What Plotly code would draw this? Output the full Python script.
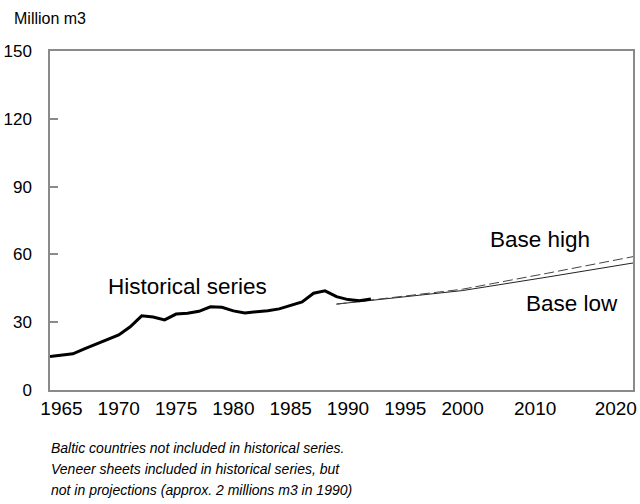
import plotly.graph_objects as go

# Wood-based panels, Europe: historical series and projections (million m3)
hist_years = list(range(1964, 1993))
hist_values = [14.8, 15.5, 16.0, 18.2, 20.3, 22.4, 24.4, 28.0, 32.8, 32.3,
               31.0, 33.6, 34.0, 34.8, 36.8, 36.6, 35.0, 34.1, 34.5, 35.1,
               35.9, 37.6, 39.0, 42.8, 43.9, 41.3, 40.0, 39.5, 40.3]

proj_years = [1989, 2000, 2010, 2020]
base_high = [38.0, 44.6, 51.7, 59.0]
base_low = [38.0, 44.0, 50.0, 56.2]

tick_years = [1965, 1970, 1975, 1980, 1985, 1990, 1995, 2000, 2010, 2020]
y_ticks = [0, 30, 60, 90, 120, 150]

# Time axis is compressed after 2000 (decades drawn narrower than before)
TAIL = 0.7435


def xpos(year):
    return year if year <= 2000 else 2000 + (year - 2000) * TAIL


# keep the last labels inside the frame
TICK_NUDGE = {2010: -1.1, 2020: -1.5}

FONT = "Liberation Sans, Arial, Helvetica, sans-serif"

fig = go.Figure()

fig.add_trace(go.Scatter(
    x=[xpos(y) for y in proj_years], y=base_low, mode="lines",
    line=dict(color="#222222", width=1), hoverinfo="skip", showlegend=False))
fig.add_trace(go.Scatter(
    x=[xpos(y) for y in proj_years], y=base_high, mode="lines",
    line=dict(color="#444444", width=1, dash="10px,4px"),
    hoverinfo="skip", showlegend=False))
fig.add_trace(go.Scatter(
    x=[xpos(y) for y in hist_years], y=hist_values, mode="lines",
    line=dict(color="#000000", width=3), hoverinfo="skip", showlegend=False))

fig.update_xaxes(
    range=[xpos(1964), xpos(2020)],
    tickmode="array",
    tickvals=[xpos(y) + TICK_NUDGE.get(y, 0) for y in tick_years],
    ticktext=[str(y) for y in tick_years],
    ticks="", showgrid=False, zeroline=False, automargin=False,
    showline=True, linecolor="#8a8a8a", linewidth=1.5, mirror=True,
    tickfont=dict(family=FONT, size=19, color="#000"),
)
fig.update_yaxes(
    range=[0, 150],
    tickmode="array", tickvals=y_ticks, ticktext=[str(v) for v in y_ticks],
    ticks="inside", ticklen=8, tickcolor="#8a8a8a", tickwidth=1.5,
    showgrid=False, zeroline=False, automargin=False,
    showline=True, linecolor="#8a8a8a", linewidth=1.5, mirror=True,
    ticklabelstandoff=13,
    tickfont=dict(family=FONT, size=17, color="#000"),
)

annotations = [
    dict(text="Million m3", x=-0.066, y=1.097, xanchor="left", yanchor="middle",
         font=dict(size=16)),
    dict(text="Historical series", x=0.235, y=0.304, xanchor="center",
         yanchor="middle", font=dict(size=22.5)),
    dict(text="Base high", x=0.840, y=0.4425, xanchor="center",
         yanchor="middle", font=dict(size=22.5)),
    dict(text="Base low", x=0.895, y=0.2537, xanchor="center",
         yanchor="middle", font=dict(size=22.5)),
]
notes = [
    "Baltic countries not included in historical series.",
    "Veneer sheets included in historical series, but",
    "not in projections (approx. 2 millions m3 in 1990)",
]
for i, line in enumerate(notes):
    annotations.append(dict(
        text="<i>" + line + "</i>", x=-0.002, y=(390 - 448 - 21 * i) / 339,
        xanchor="left", yanchor="middle", font=dict(size=14)))

for a in annotations:
    a.update(xref="paper", yref="paper", showarrow=False)
    a["font"].update(family=FONT, color="#000")

fig.update_layout(
    width=640, height=504,
    margin=dict(l=50, r=7, t=51, b=114),
    paper_bgcolor="white", plot_bgcolor="white",
    annotations=annotations,
)

fig.write_html("out.html")
